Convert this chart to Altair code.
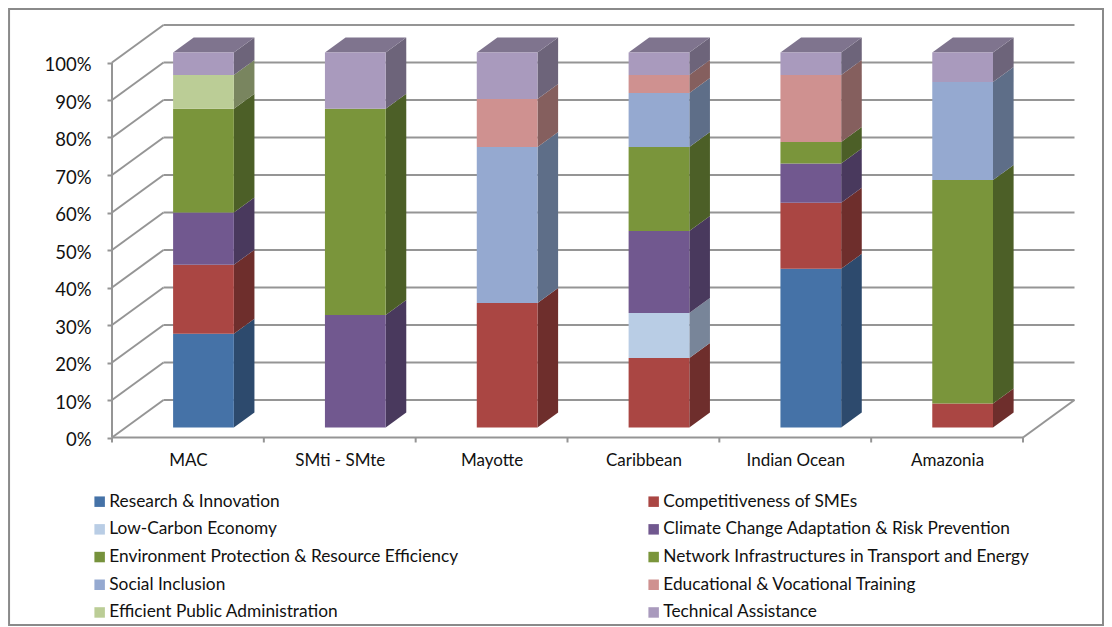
import altair as alt
import pandas as pd

regions = ["MAC", "SMti - SMte", "Mayotte", "Caribbean", "Indian Ocean", "Amazonia"]
series_names = [
    "Research & Innovation", "Competitiveness of SMEs", "Low-Carbon Economy",
    "Climate Change Adaptation & Risk Prevention", "Environment Protection & Resource Efficiency",
    "Network Infrastructures in Transport and Energy", "Social Inclusion",
    "Educational & Vocational Training", "Efficient Public Administration", "Technical Assistance",
]
research = [25, 0, 0, 0, 42.3, 0]
competitiveness = [18.4, 0, 33.2, 18.5, 17.6, 6.4]
low_carbon = [0, 0, 0, 12, 0, 0]
climate = [13.9, 30, 0, 21.9, 10.5, 0]
environment = [0, 0, 0, 0, 0, 0]
network = [27.7, 55, 0, 22.4, 5.7, 59.6]
social = [0, 0, 41.6, 14.4, 0, 26.1]
education = [0, 0, 12.8, 4.8, 17.9, 0]
efficient = [9, 0, 0, 0, 0, 0]
technical = [6, 15, 12.4, 6, 6, 7.9]
all_series = [research, competitiveness, low_carbon, climate, environment,
              network, social, education, efficient, technical]

front_colors = ["#4572A7", "#AA4643", "#B9CDE5", "#71588F", "#76923C",
                "#7A953B", "#95A9D0", "#CF9190", "#BBCD96", "#A99ABD"]
side_colors = ["#2D4A6D", "#6E2E2C", "#788599", "#49395D", "#4C5F27",
               "#4C5F27", "#5E6E88", "#855F5E", "#79855F", "#6D647A"]
top_colors = ["#34567D", "#803533", "#8B9AAC", "#55426B", "#586D2D",
              "#586D2D", "#707F9C", "#9B6D6C", "#8C9A71", "#7F748E"]

ticks_y = list(range(0, 101, 10))
FONT = "Lato"
GRID = "#959595"
legend_order = series_names[0::2] + series_names[1::2]

# oblique projection of the box: depth 1 = back wall
DX, DY = 0.3392, 10
D0, D1 = 0.2667, 0.6667
BAR_L, BAR_W = 0.312, 0.40

front, side, top = [], [], []
for i in range(len(regions)):
    cum = 0
    xl = i + BAR_L + DX * D0
    xr = xl + BAR_W
    for s, name in enumerate(series_names):
        v = all_series[s][i]
        if v <= 0:
            continue
        lo, hi = cum, cum + v
        cum = hi
        front.append(dict(x=xl, x2=xr, y=lo + DY * D0, y2=hi + DY * D0, name=name))
        seg = f"{i}-{s}"
        for d in (D0, D1):
            side.append(dict(seg=seg, x=xr + DX * (d - D0), y=lo + DY * d, y2=hi + DY * d, c=side_colors[s]))
        if hi >= 99.9:
            for d in (D0, D1):
                top.append(dict(seg=seg, x=xl + DX * (d - D0), x2=xr + DX * (d - D0), y=hi + DY * d, c=top_colors[s]))

grid_back = pd.DataFrame([dict(x=DX, x2=6 + DX, y=p + DY, y2=p + DY) for p in ticks_y])
grid_wall = pd.DataFrame([dict(x=0, x2=DX, y=p, y2=p + DY) for p in ticks_y] + [dict(x=6, x2=6 + DX, y=0, y2=DY)])
axis_lines = pd.DataFrame([dict(x=0, x2=0, y=0, y2=100), dict(x=0, x2=6, y=0, y2=0)])
floor_ticks = pd.DataFrame([dict(x=i, x2=i, y=0, y2=-1.33) for i in range(7)])
frame = pd.DataFrame([dict(x=-0.678, x2=6.527, y=-50, y2=114.3)])

xs = alt.Scale(domain=[0, 6 + DX], nice=False, zero=False)
ys = alt.Scale(domain=[0, 110], nice=False, zero=False)
label_js = "[" + ",".join(f"'{r}'" for r in regions) + "][floor(datum.value)]"
X = alt.X("x:Q", scale=xs, axis=alt.Axis(
    values=[i + 0.5 for i in range(len(regions))], title=None, domain=False, ticks=False, grid=False,
    labelExpr=label_js, labelFont=FONT, labelFontSize=17, labelColor="#111111",
    labelPadding=15, labelAngle=0))
Y = alt.Y("y:Q", scale=ys, axis=alt.Axis(
    values=ticks_y, title=None, domain=False, grid=False, ticks=True, tickSize=5,
    tickColor=GRID, tickWidth=2, labelExpr="datum.value + '%'", labelFont=FONT,
    labelFontSize=18.5, labelColor="#111111", labelPadding=16, labelOffset=2))


def rules(df):
    return alt.Chart(df).mark_rule(color=GRID, strokeWidth=2).encode(
        x=X, x2="x2:Q", y=Y, y2="y2:Q")


frame_layer = alt.Chart(frame).mark_rect(fillOpacity=0, stroke="#8A8A8A", strokeWidth=2).encode(
    x=X, x2="x2:Q", y=Y, y2="y2:Q")

side_layer = alt.Chart(pd.DataFrame(side)).mark_area(opacity=1).encode(
    x=X, y=Y, y2="y2:Q", detail="seg:N", color=alt.Color("c:N", scale=None))
top_layer = alt.Chart(pd.DataFrame(top)).mark_area(orient="horizontal", opacity=1).encode(
    y=Y, x=X, x2="x2:Q", detail="seg:N", color=alt.Color("c:N", scale=None))
front_layer = alt.Chart(pd.DataFrame(front)).mark_rect().encode(
    x=X, x2="x2:Q", y=Y, y2="y2:Q",
    color=alt.Color("name:N", scale=alt.Scale(domain=series_names, range=front_colors),
                    legend=alt.Legend(
                        title=None, orient="none", legendX=-21, legendY=468, columns=2,
                        values=legend_order,
                        symbolType="square", symbolSize=110, symbolStrokeWidth=0,
                        labelFont=FONT, labelFontSize=17.3, labelColor="#111111",
                        labelLimit=500, rowPadding=9.7, columnPadding=186, labelOffset=1)))

chart = alt.layer(
    frame_layer, rules(grid_back), rules(grid_wall), rules(axis_lines), rules(floor_ticks),
    side_layer, top_layer, front_layer,
).resolve_scale(color="independent").properties(
    width=962.5, height=412.5,
    padding={"left": 104, "top": 17, "right": 29.5, "bottom": 189.5},
    autosize=alt.AutoSizeParams(type="none"),
    background="white",
).configure_view(stroke=None)

chart.save("out.html", embed_options={"renderer": "svg", "actions": False})
